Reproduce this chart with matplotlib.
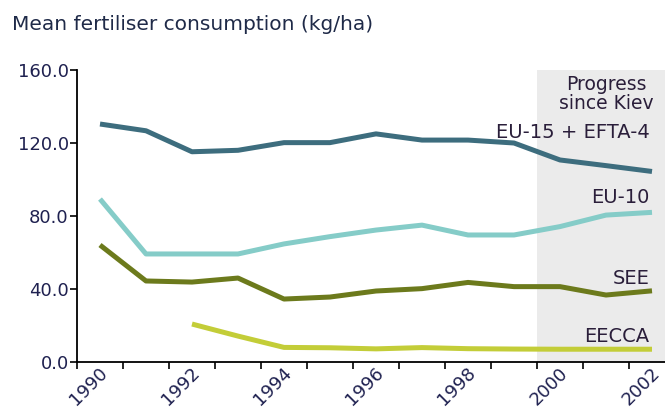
import numpy as np
import matplotlib.pyplot as plt
import matplotlib.transforms as mtransforms

years = list(range(1990, 2003))
year_labels = [str(y) if y % 2 == 0 else "" for y in years]
eu15 = [130.4, 126.7, 115.2, 116.0, 120.2, 120.2, 125.0, 121.6, 121.6, 120.0, 110.7, 107.6, 104.4]
eu10 = [89.3, 59.2, 59.2, 59.2, 64.7, 68.7, 72.3, 75.0, 69.6, 69.6, 74.2, 80.5, 82.0]
see = [64.1, 44.4, 43.8, 46.0, 34.5, 35.6, 38.9, 40.2, 43.6, 41.3, 41.3, 36.7, 39.0]
eecca = [np.nan, np.nan, 20.8, 14.2, 8.0, 7.8, 7.2, 7.9, 7.3, 7.1, 7.0, 7.0, 7.0]
series = [
    ("EU-15 + EFTA-4", eu15, "#3d6d7e", 126.0),
    ("EU-10", eu10, "#85ccc8", 90.4),
    ("SEE", see, "#6c7a1c", 46.0),
    ("EECCA", eecca, "#c3cd38", 13.7),
]
txt_col = "#2a1e3a"

fig = plt.figure(figsize=(6.65, 4.08), dpi=100)
ax = fig.add_axes([77 / 665, 46 / 408, 598 / 665, 292 / 408])
x = np.arange(len(years))

ax.axvspan(9.5, 12.5, color="#ebebeb", zorder=0, lw=0)
for name, vals, col, ly in series:
    ax.plot(x, vals, color=col, lw=3.6, solid_capstyle="butt", zorder=2)
    ax.text(11.95, ly, name, ha="right", va="center", fontsize=14, color=txt_col)

ax.text(11.0, 146.8, "Progress\nsince Kiev", ha="center", va="center", fontsize=13.5,
        color=txt_col, linespacing=0.95)

ax.set_xlim(-0.5, 12.5)
ax.set_ylim(0, 160)
yt = [0, 40, 80, 120, 160]
ax.set_yticks(yt)
ax.set_yticklabels([f"{v:.1f}" for v in yt])
ax.set_xticks(x)
ax.set_xticklabels(year_labels, rotation=45, ha="right", va="center",
                   rotation_mode="anchor")
ax.set_xticks(np.arange(-0.5, 12.5, 1), minor=True)
ax.tick_params(axis="x", which="major", length=0, pad=6)
ax.tick_params(axis="x", which="minor", length=5, width=1.2, direction="out")
ax.tick_params(axis="y", length=5, width=1.2, pad=1)
ax.tick_params(labelsize=13, labelcolor="#1f2150")
off = mtransforms.ScaledTranslation(5 / 100, 0, fig.dpi_scale_trans)
for lab in ax.get_xticklabels():
    lab.set_transform(lab.get_transform() + off)

for s in ["top", "right"]:
    ax.spines[s].set_visible(False)
for s in ["left", "bottom"]:
    ax.spines[s].set_linewidth(1.3)

fig.text(12 / 665, 1 - 24 / 408, "Mean fertiliser consumption (kg/ha)", fontsize=14.5,
         color="#1f2a48", va="center", ha="left")

fig.savefig("out.png", dpi=100)
